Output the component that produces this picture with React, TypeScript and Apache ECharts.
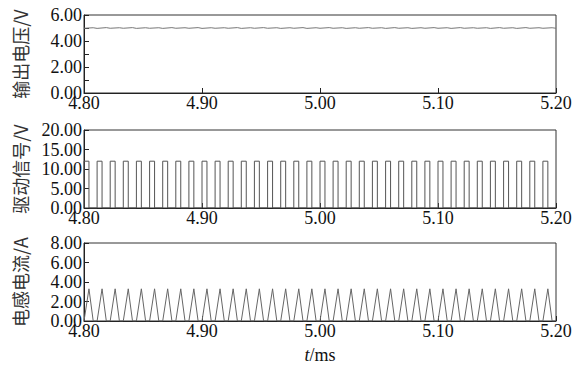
import React, { useEffect, useRef } from "react";
import * as echarts from "echarts";

// time axis (ms)
const xMin = 4.8;
const xMax = 5.2;
const xInterval = 0.1;

// panel names and y ranges
const panelNames = ["输出电压/V", "驱动信号/V", "电感电流/A"];
const yMaxes = [6, 20, 8];
const yIntervals = [2, 5, 2];

// start times of each drive pulse (ms)
const pulseStarts = [
  4.8, 4.8111, 4.8222, 4.8333, 4.8444, 4.8556, 4.8667, 4.8778, 4.8889,
  4.9, 4.9111, 4.9222, 4.9333, 4.9444, 4.9556, 4.9667, 4.9778, 4.9889,
  5.0, 5.0111, 5.0222, 5.0333, 5.0444, 5.0556, 5.0667, 5.0778, 5.0889,
  5.1, 5.1111, 5.1222, 5.1333, 5.1444, 5.1556, 5.1667, 5.1778, 5.1889,
];
const pulseWidth = 0.0042; // ms on-time
const pulseHigh = 12; // V

// inductor current: peak per cycle (A), rise and fall end offsets (ms)
const currentPeaks = [
  3.3, 3.3, 3.3, 3.3, 3.3, 3.3, 3.3, 3.3, 3.3, 3.3, 3.3, 3.3,
  3.3, 3.3, 3.3, 3.3, 3.3, 3.3, 3.3, 3.3, 3.3, 3.3, 3.3, 3.3,
  3.3, 3.3, 3.3, 3.3, 3.3, 3.3, 3.3, 3.3, 3.3, 3.3, 3.3, 3.3,
];
const currentRise = 0.0042;
const currentFall = 0.0078;

// output voltage: value at each pulse start and at each current peak (V)
const voutLow = [
  4.98, 4.97, 4.98, 4.98, 4.97, 4.98, 4.97, 4.98, 4.98, 4.97, 4.98, 4.98,
  4.97, 4.98, 4.98, 4.97, 4.98, 4.97, 4.98, 4.98, 4.97, 4.98, 4.98, 4.97,
  4.98, 4.97, 4.98, 4.98, 4.97, 4.98, 4.98, 4.97, 4.98, 4.97, 4.98, 4.98,
];
const voutHigh = [
  5.02, 5.03, 5.02, 5.03, 5.02, 5.02, 5.03, 5.02, 5.03, 5.02, 5.02, 5.03,
  5.02, 5.03, 5.02, 5.02, 5.03, 5.02, 5.03, 5.02, 5.02, 5.03, 5.02, 5.03,
  5.02, 5.02, 5.03, 5.02, 5.03, 5.02, 5.02, 5.03, 5.02, 5.03, 5.02, 5.02,
];

const gridTops = [15, 130, 243];
const gridHeight = 78;

export default function App() {
  const ref = useRef<HTMLDivElement>(null);
  useEffect(() => {
    document.body.style.margin = "0";
    if (!ref.current) return;
    const chart = echarts.init(ref.current, undefined, { renderer: "svg" });

    const pulseData: number[][] = [];
    pulseStarts.forEach((s) => {
      pulseData.push([s, 0], [s, pulseHigh], [s + pulseWidth, pulseHigh], [s + pulseWidth, 0]);
    });
    pulseData.push([xMax, 0]);

    const currentData: number[][] = [];
    pulseStarts.forEach((s, i) => {
      currentData.push([s, 0], [s + currentRise, currentPeaks[i]], [s + currentFall, 0]);
    });
    currentData.push([xMax, 0]);

    const voutData: number[][] = [];
    pulseStarts.forEach((s, i) => {
      voutData.push([s, voutLow[i]], [s + currentFall, voutHigh[i]]);
    });
    voutData.push([xMax, voutLow[0]]);

    const serif = "Liberation Serif";
    const axisColor = "#222";

    const grids = gridTops.map((t) => ({
      left: 84,
      width: 472,
      top: t,
      height: gridHeight,
      show: true,
      borderColor: "#333",
      borderWidth: 1,
      backgroundColor: "transparent",
    }));

    const xAxes = gridTops.map((_, i) => ({
      type: "value",
      gridIndex: i,
      min: xMin,
      max: xMax,
      interval: xInterval,
      axisLine: { show: true, lineStyle: { color: axisColor, width: 1 } },
      axisTick: { show: true, inside: true, length: 5, lineStyle: { color: axisColor } },
      splitLine: { show: false },
      axisLabel: {
        show: true,
        margin: 2,
        fontFamily: serif,
        fontSize: 18,
        lineHeight: 15,
        color: "#111",
        showMinLabel: true,
        showMaxLabel: true,
        formatter: (v: number) => v.toFixed(2),
      },
      ...(i === 2
        ? {
            name: "{i|t}/ms",
            nameLocation: "middle",
            nameGap: 25,
            nameTextStyle: {
              fontFamily: serif,
              fontSize: 18,
              color: "#111",
              rich: { i: { fontFamily: serif, fontSize: 18, fontStyle: "italic", color: "#111" } },
            },
          }
        : {}),
    }));

    const yAxes = gridTops.map((_, i) => ({
      type: "value",
      gridIndex: i,
      min: 0,
      max: yMaxes[i],
      interval: yIntervals[i],
      name: panelNames[i],
      nameLocation: "middle",
      nameRotate: 90,
      nameGap: 55,
      nameTextStyle: { fontFamily: "Noto Sans CJK SC", fontSize: 18, color: "#333" },
      axisLine: { show: true, lineStyle: { color: axisColor, width: 1 } },
      axisTick: { show: true, inside: true, length: 5, lineStyle: { color: axisColor } },
      minorTick: i === 0 ? { show: true, splitNumber: 2, length: 5, lineStyle: { color: axisColor } } : { show: false },
      splitLine: { show: false },
      axisLabel: {
        show: true,
        margin: 2,
        fontFamily: serif,
        fontSize: 18,
        lineHeight: 13,
        color: "#111",
        formatter: (v: number) => v.toFixed(2),
      },
    }));

    const lineBase = {
      type: "line",
      showSymbol: false,
      symbol: "none",
      lineStyle: { width: 1 },
      silent: true,
    };

    chart.setOption({
      animation: false,
      backgroundColor: "#fff",
      grid: grids,
      xAxis: xAxes,
      yAxis: yAxes,
      series: [
        { ...lineBase, xAxisIndex: 0, yAxisIndex: 0, data: voutData, lineStyle: { width: 1, color: "#777" } },
        { ...lineBase, xAxisIndex: 1, yAxisIndex: 1, data: pulseData, lineStyle: { width: 1, color: "#555" } },
        { ...lineBase, xAxisIndex: 2, yAxisIndex: 2, data: currentData, lineStyle: { width: 1, color: "#666" } },
      ],
    });
    return () => chart.dispose();
  }, []);
  return <div ref={ref} style={{ width: 581, height: 366 }} />;
}
